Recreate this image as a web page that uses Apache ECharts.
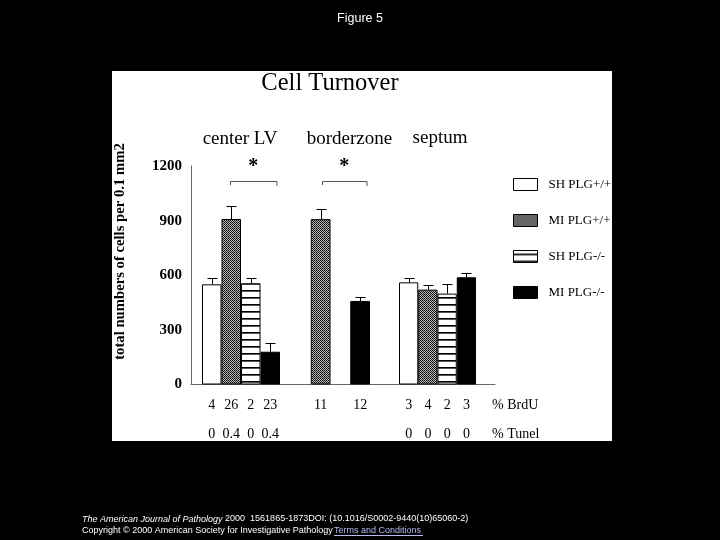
<!DOCTYPE html>
<html><head><meta charset="utf-8">
<script src="https://cdn.jsdelivr.net/npm/echarts@6/dist/echarts.min.js"></script>
<style>html,body{margin:0;background:#000}#c{width:720px;height:540px}</style>
</head><body><div id="c"></div>
<script>
// ---- data ----
const regions = ['center LV', 'borderzone', 'septum'];
const groups = ['SH PLG+/+', 'MI PLG+/+', 'SH PLG-/-', 'MI PLG-/-'];
const yTicks = [0, 300, 600, 900, 1200];
const cellsShWt = [550, null, 561];
const cellsMiWt = [909, 908, 521];
const cellsShKo = [556, null, 499];
const cellsMiKo = [180, 459, 589];
const errShWt = [33, null, 22];
const errMiWt = [72, 55, 24];
const errShKo = [27, null, 52];
const errMiKo = [50, 23, 22];
const brduShWt = [4, null, 3];
const brduMiWt = [26, 11, 4];
const brduShKo = [2, null, 2];
const brduMiKo = [23, 12, 3];
const tunelShWt = [0, null, 0];
const tunelMiWt = [0.4, null, 0];
const tunelShKo = [0, null, 0];
const tunelMiKo = [0.4, null, 0];
const significant = [true, true, false];

const cells = [cellsShWt, cellsMiWt, cellsShKo, cellsMiKo];
const errs = [errShWt, errMiWt, errShKo, errMiKo];
const brdu = [brduShWt, brduMiWt, brduShKo, brduMiKo];
const tunel = [tunelShWt, tunelMiWt, tunelShKo, tunelMiKo];

// ---- patterns ----
function checkerCanvas() {
  const c = document.createElement('canvas'); c.width = 2; c.height = 2;
  const g = c.getContext('2d');
  g.fillStyle = '#b8b8b8'; g.fillRect(0, 0, 2, 2);
  g.fillStyle = '#000'; g.fillRect(0, 0, 1, 1);
  g.fillStyle = '#222'; g.fillRect(1, 1, 1, 1);
  return c;
}
function stripeCanvas() {
  const c = document.createElement('canvas'); c.width = 2; c.height = 7;
  const g = c.getContext('2d');
  g.fillStyle = '#fff'; g.fillRect(0, 0, 2, 7);
  g.fillStyle = '#000'; g.fillRect(0, 3, 2, 1);
  g.fillStyle = '#555'; g.fillRect(0, 4, 2, 1);
  return c;
}
const fills = [
  '#ffffff',
  { image: checkerCanvas(), repeat: 'repeat' },
  { image: stripeCanvas(), repeat: 'repeat' },
  '#000000'
];

const SERIF = 'Liberation Serif';
const SANS = 'Liberation Sans';
const TOP = 166, HEIGHT = 218.5;
const groupGrids = [
  { left: 202, width: 78 },
  { left: 291, width: 79 },
  { left: 399, width: 77 }
];

const grid = [{ left: 191, top: TOP, width: 304, height: HEIGHT }]
  .concat(groupGrids.map(g => ({ left: g.left, width: g.width, top: TOP, height: HEIGHT })));

const fmt = v => (v === null || v === undefined) ? '' : String(v);

const xAxis = [{
  gridIndex: 0, type: 'value', min: 0, max: 1,
  axisLine: { show: true, lineStyle: { color: '#666', width: 1 } },
  axisTick: { show: false }, axisLabel: { show: false }, splitLine: { show: false }
}];
const yAxis = [{
  gridIndex: 0, type: 'value', min: yTicks[0], max: yTicks[yTicks.length - 1], interval: 300,
  axisLine: { show: true, lineStyle: { color: '#666', width: 1 } },
  axisTick: { show: false }, splitLine: { show: false },
  axisLabel: { fontFamily: SERIF, fontWeight: 'bold', fontSize: 15, color: '#000', margin: 9, formatter: v => String(v) }
}];
const series = [];

regions.forEach((reg, r) => {
  const gi = r + 1;
  xAxis.push({
    gridIndex: gi, type: 'category', data: groups,
    axisLine: { show: false }, axisTick: { show: false },
    axisLabel: {
      interval: 0, margin: 6, fontFamily: SERIF, fontSize: 14, color: '#000', lineHeight: 29,
      formatter: (v, i) => fmt(brdu[i][r]) + '\n' + fmt(tunel[i][r])
    }
  });
  yAxis.push({ gridIndex: gi, type: 'value', min: 0, max: 1200, show: false });
  groups.forEach((name, g) => {
    series.push({
      type: 'bar', name: name, xAxisIndex: gi, yAxisIndex: gi,
      barWidth: '100%', barGap: '-100%', barCategoryGap: '0%',
      itemStyle: { color: fills[g], borderColor: '#000', borderWidth: 1 },
      data: groups.map((_, i) => (i === g && cells[g][r] !== null) ? cells[g][r] : '-')
    });
  });
  const errData = [];
  groups.forEach((_, g) => { if (cells[g][r] !== null) errData.push([g, cells[g][r], errs[g][r]]); });
  series.push({
    type: 'custom', xAxisIndex: gi, yAxisIndex: gi, z: 5, silent: true,
    encode: { x: 0, y: 1 },
    data: errData,
    renderItem: (params, api) => {
      const base = api.coord([api.value(0), api.value(1)]);
      const top = api.coord([api.value(0), api.value(1) + api.value(2)]);
      const x = Math.round(base[0]) + 0.5, yt = Math.round(top[1]) + 0.5;
      return {
        type: 'group', children: [
          { type: 'line', shape: { x1: x, y1: base[1], x2: x, y2: yt }, style: { stroke: '#000', lineWidth: 1 } },
          { type: 'line', shape: { x1: x - 5, y1: yt, x2: x + 5, y2: yt }, style: { stroke: '#000', lineWidth: 1 } }
        ]
      };
    }
  });
});

// ---- annotations (layout) ----
const regionLabelPos = [[240, 139], [349.5, 139], [440, 138]];
const bracketPos = [[230, 276.5], [322, 366.5], null];
const graphic = [
  { type: 'rect', z: -10, shape: { x: 112, y: 71, width: 500, height: 370 }, style: { fill: '#fff' } },
  { type: 'text', x: 330, y: 83.5, style: { text: 'Cell Turnover', fontFamily: SERIF, fontSize: 24.5, fill: '#000', align: 'center', verticalAlign: 'middle' } },
  { type: 'text', x: 120, y: 251.5, rotation: Math.PI / 2, style: { text: 'total numbers of cells per 0.1 mm2', fontFamily: SERIF, fontWeight: 'bold', fontSize: 14.7, fill: '#000', align: 'center', verticalAlign: 'middle' } },
  { type: 'text', x: 492, y: 405, style: { text: '% BrdU', fontFamily: SERIF, fontSize: 14, fill: '#000', align: 'left', verticalAlign: 'middle' } },
  { type: 'text', x: 492, y: 434, style: { text: '% Tunel', fontFamily: SERIF, fontSize: 14, fill: '#000', align: 'left', verticalAlign: 'middle' } },
  { type: 'text', x: 82, y: 519, style: { text: '{i|The American Journal of Pathology} 2000  1561865-1873DOI: (10.1016/S0002-9440(10)65060-2)', fontFamily: SANS, fontSize: 9, fill: '#fff', verticalAlign: 'middle', rich: { i: { fontStyle: 'italic', fontFamily: SANS, fontSize: 9, fill: '#fff' } } } },
  { type: 'text', x: 82, y: 531, style: { text: 'Copyright © 2000 American Society for Investigative Pathology ', fontFamily: SANS, fontSize: 9, fill: '#fff', verticalAlign: 'middle' } },
  { type: 'text', x: 334, y: 531, style: { text: 'Terms and Conditions', fontFamily: SANS, fontSize: 9, fill: '#b8b8f0', verticalAlign: 'middle' } },
  { type: 'line', shape: { x1: 334, y1: 535.5, x2: 423, y2: 535.5 }, style: { stroke: '#b8b8f0', lineWidth: 1 } }
];
regions.forEach((reg, r) => {
  graphic.push({ type: 'text', x: regionLabelPos[r][0], y: regionLabelPos[r][1], style: { text: reg, fontFamily: SERIF, fontSize: 19, fill: '#000', align: 'center', verticalAlign: 'middle' } });
  if (significant[r] && bracketPos[r]) {
    const [a, b] = bracketPos[r];
    graphic.push({ type: 'polyline', shape: { points: [[a + 0.5, 185], [a + 0.5, 181.5], [b + 0.5, 181.5], [b + 0.5, 186]] }, style: { stroke: '#555', lineWidth: 1, fill: null } });
    graphic.push({ type: 'text', x: (a + b) / 2, y: 167, style: { text: '*', fontFamily: SERIF, fontWeight: 'bold', fontSize: 20, fill: '#000', align: 'center', verticalAlign: 'middle' } });
  }
});

const chart = echarts.init(document.getElementById('c'), null, { renderer: 'canvas' });
chart.setOption({
  backgroundColor: '#000',
  animation: false,
  title: { text: 'Figure 5', left: 'center', top: 12, padding: 0, textStyle: { color: '#fff', fontFamily: SANS, fontSize: 12.5, fontWeight: 'normal' } },
  legend: {
    orient: 'vertical', left: 513, top: 178, padding: 0, itemWidth: 24, itemHeight: 12, itemGap: 23,
    icon: 'rect', selectedMode: false, data: groups,
    itemStyle: { borderColor: '#000', borderWidth: 1 },
    textStyle: { fontFamily: SERIF, fontSize: 13, color: '#000', lineHeight: 12, padding: [0, 0, 0, 6] }
  },
  grid, xAxis, yAxis, series, graphic
});
</script></body></html>
